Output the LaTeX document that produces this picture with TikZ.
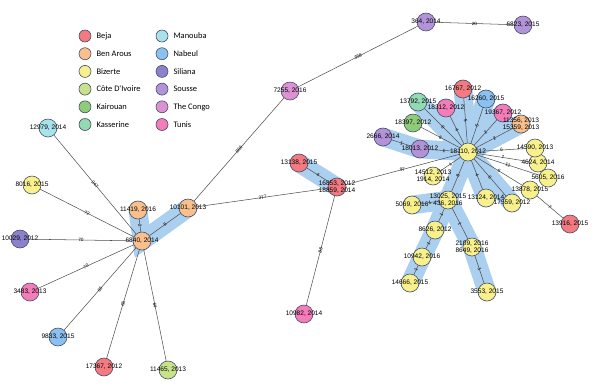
\documentclass[tikz,border=0pt]{standalone}
\usepackage{fontspec}
\usepackage{xcolor}
\usetikzlibrary{positioning, backgrounds}
\newfontfamily\lblfont{Liberation Sans}
\newfontfamily\legfont{Carlito}
\definecolor{beja}{HTML}{F27A80}
\definecolor{benarous}{HTML}{F9BF8C}
\definecolor{bizerte}{HTML}{F8F08C}
\definecolor{cotedivoire}{HTML}{C8E28C}
\definecolor{kairouan}{HTML}{8FCC7A}
\definecolor{kasserine}{HTML}{93D9B2}
\definecolor{manouba}{HTML}{A9E2EA}
\definecolor{nabeul}{HTML}{8CC0F0}
\definecolor{siliana}{HTML}{8C82CC}
\definecolor{sousse}{HTML}{B393D8}
\definecolor{congo}{HTML}{DA92D2}
\definecolor{tunis}{HTML}{F27DB9}
\definecolor{rimline}{HTML}{3F4A63}
\definecolor{linkgray}{HTML}{505050}
\definecolor{pathblue}{HTML}{ABCFEE}

\begin{document}
\begin{tikzpicture}[
    x=0.03cm, y=-0.03cm,
    site/.style={circle, draw=rimline, line width=0.5pt, minimum size=0.54cm, inner sep=0pt},
    lbl/.style={font=\lblfont\fontsize{5.6}{6.4}\selectfont, align=center, inner sep=0pt},
    key/.style={circle, draw=rimline, line width=0.5pt, minimum size=0.36cm, inner sep=0pt},
    keytext/.style={font=\legfont\fontsize{7.2}{8}\selectfont, inner sep=0pt, anchor=west},
    link/.style={draw=linkgray, line width=0.45pt},
    wt/.style={font=\lblfont\fontsize{4}{4.5}\selectfont, sloped, inner sep=0.5pt},
    hilite/.style={draw=pathblue, line width=0.56cm, line cap=round}
]
\useasboundingbox (0,0) rectangle (600,386);

% Legend
\node[key, fill=beja] (kbeja) at (85,36) {};
\node[keytext, right=0.15cm of kbeja] {Beja};
\node[key, fill=benarous] (kbenarous) at (85,53.7) {};
\node[keytext, right=0.15cm of kbenarous] {Ben Arous};
\node[key, fill=bizerte] (kbizerte) at (85,71.4) {};
\node[keytext, right=0.15cm of kbizerte] {Bizerte};
\node[key, fill=cotedivoire] (kcote) at (85,89.1) {};
\node[keytext, right=0.15cm of kcote] {Côte D'Ivoire};
\node[key, fill=kairouan] (kkairouan) at (85,106.8) {};
\node[keytext, right=0.15cm of kkairouan] {Kairouan};
\node[key, fill=kasserine] (kkasserine) at (85,124.5) {};
\node[keytext, right=0.15cm of kkasserine] {Kasserine};
\node[key, fill=manouba] (kmanouba) at (162,36) {};
\node[keytext, right=0.15cm of kmanouba] {Manouba};
\node[key, fill=nabeul] (knabeul) at (162,53.7) {};
\node[keytext, right=0.15cm of knabeul] {Nabeul};
\node[key, fill=siliana] (ksiliana) at (162,71.4) {};
\node[keytext, right=0.15cm of ksiliana] {Siliana};
\node[key, fill=sousse] (ksousse) at (162,89.1) {};
\node[keytext, right=0.15cm of ksousse] {Sousse};
\node[key, fill=congo] (kcongo) at (162,106.8) {};
\node[keytext, right=0.15cm of kcongo] {The Congo};
\node[key, fill=tunis] (ktunis) at (162,124.5) {};
\node[keytext, right=0.15cm of ktunis] {Tunis};

% Left cluster
\node[site, fill=benarous, label={[lbl]center:{6840, 2014}}] (n6840) at (142,241) {};
\node[site, fill=benarous, label={[lbl]center:{11419, 2016}}] (n11419) at (138,210) {};
\node[site, fill=benarous, label={[lbl]center:{10101, 2013}}] (n10101) at (188,208) {};
\node[site, fill=manouba, label={[lbl]center:{12979, 2014}}] (n12979) at (48,128) {};
\node[site, fill=bizerte, label={[lbl]center:{8016, 2015}}] (n8016) at (32,185) {};
\node[site, fill=siliana, label={[lbl]center:{10029, 2012}}] (n10029) at (20,239) {};
\node[site, fill=tunis, label={[lbl]center:{3483, 2013}}] (n3483) at (30,292) {};
\node[site, fill=nabeul, label={[lbl]center:{9833, 2015}}] (n9833) at (58,337) {};
\node[site, fill=beja, label={[lbl]center:{17367, 2012}}] (n17367) at (104,367) {};
\node[site, fill=cotedivoire, label={[lbl]center:{11465, 2013}}] (n11465) at (168,370) {};

% Centre
\node[site, fill=congo, label={[lbl]center:{7255, 2016}}] (n7255) at (290,91) {};
\node[site, fill=sousse, label={[lbl]center:{364, 2014}}] (n364) at (426,22) {};
\node[site, fill=sousse, label={[lbl]center:{6823, 2015}}] (n6823) at (523,25) {};
\node[site, fill=beja, label={[lbl]center:{13138, 2015}}] (n13138) at (299,163) {};
\node[site, fill=beja, label={[lbl]center:{16853, 2012\\18859, 2014}}] (n16853) at (337,187) {};
\node[site, fill=tunis, label={[lbl]center:{10982, 2014}}] (n10982) at (304,314) {};

% Right cluster
\node[site, fill=bizerte, label={[lbl]center:{18110, 2012}}] (n18110) at (468,152) {};
\node[site, fill=kasserine, label={[lbl]center:{13792, 2015}}] (n13792) at (418,102) {};
\node[site, fill=beja, label={[lbl]center:{16767, 2012}}] (n16767) at (463,89) {};
\node[site, fill=nabeul, label={[lbl]center:{16260, 2015}}] (n16260) at (486,99) {};
\node[site, fill=tunis, label={[lbl]center:{18312, 2012}}] (n18312) at (446,108) {};
\node[site, fill=tunis, label={[lbl]center:{19367, 2012}}] (n19367) at (503,113) {};
\node[site, fill=benarous, label={[lbl]center:{11356, 2013\\15359, 2013}}] (n11356) at (521,124) {};
\node[site, fill=kairouan, label={[lbl]center:{18397, 2012}}] (n18397) at (413,123) {};
\node[site, fill=sousse, label={[lbl]center:{2666, 2014}}] (n2666) at (383,137) {};
\node[site, fill=sousse, label={[lbl]center:{18013, 2012}}] (n18013) at (420,149) {};
\node[site, fill=bizerte, label={[lbl]center:{14512, 2013\\1914, 2014}}] (n14512) at (433,176) {};
\node[site, fill=bizerte, label={[lbl]center:{13025, 2015\\436, 2016}}] (n13025) at (448,200) {};
\node[site, fill=bizerte, label={[lbl]center:{13124, 2014}}] (n13124) at (486,198) {};
\node[site, fill=bizerte, label={[lbl]center:{5069, 2016}}] (n5069) at (412,205) {};
\node[site, fill=bizerte, label={[lbl]center:{8626, 2012}}] (n8626) at (435,230) {};
\node[site, fill=bizerte, label={[lbl]center:{10942, 2016}}] (n10942) at (422,257) {};
\node[site, fill=bizerte, label={[lbl]center:{14666, 2015}}] (n14666) at (410,283) {};
\node[site, fill=bizerte, label={[lbl]center:{2109, 2016\\8649, 2016}}] (n2109) at (472,247) {};
\node[site, fill=bizerte, label={[lbl]center:{3553, 2015}}] (n3553) at (487,292) {};
\node[site, fill=bizerte, label={[lbl]center:{17559, 2012}}] (n17559) at (512,203) {};
\node[site, fill=bizerte, label={[lbl]center:{13878, 2015}}] (n13878) at (530,190) {};
\node[site, fill=bizerte, label={[lbl]center:{5605, 2016}}] (n5605) at (548,178) {};
\node[site, fill=bizerte, label={[lbl]center:{4624, 2014}}] (n4624) at (538,163) {};
\node[site, fill=bizerte, label={[lbl]center:{14590, 2013}}] (n14590) at (535,148) {};
\node[site, fill=beja, label={[lbl]center:{13916, 2015}}] (n13916) at (570,224) {};

% Highlighted paths
\begin{scope}[on background layer]
\draw[hilite] (n11419.center) -- (n6840.center) -- (n10101.center);
\draw[hilite] (n13138.center) -- (n16853.center);
\draw[hilite] (n2666.center) -- (n18013.center) -- (n18110.center);
\draw[hilite] (n18110.center) -- (n13792.center);
\draw[hilite] (n18110.center) -- (n18312.center);
\draw[hilite] (n18110.center) -- (n16767.center);
\draw[hilite] (n18110.center) -- (n16260.center);
\draw[hilite] (n18110.center) -- (n19367.center);
\draw[hilite] (n18110.center) -- (n11356.center);
\draw[hilite] (n18110.center) -- (n13124.center);
\draw[hilite] (n18110.center) -- (n17559.center);
\draw[hilite] (n18110.center) -- (n13025.center);
\draw[hilite] (n5069.center) -- (n13025.center) -- (n8626.center) -- (n10942.center) -- (n14666.center);
\draw[hilite] (n13025.center) -- (n2109.center) -- (n3553.center);
\end{scope}

% Links
\draw[link] (n6840) -- node[wt]{247} (n12979);
\draw[link] (n6840) -- node[wt]{72} (n8016);
\draw[link] (n6840) -- node[wt]{70} (n10029);
\draw[link] (n6840) -- node[wt]{70} (n3483);
\draw[link] (n6840) -- node[wt]{65} (n9833);
\draw[link] (n6840) -- node[wt]{65} (n17367);
\draw[link] (n6840) -- node[wt]{64} (n11465);
\draw[link] (n6840) -- node[wt]{2} (n11419);
\draw[link] (n6840) -- node[wt]{6} (n10101);
\draw[link] (n10101) -- node[wt]{866} (n7255);
\draw[link] (n10101) -- node[wt]{377} (n16853);
\draw[link] (n7255) -- node[wt]{358} (n364);
\draw[link] (n364) -- node[wt]{20} (n6823);
\draw[link] (n13138) -- node[wt]{4} (n16853);
\draw[link] (n16853) -- node[wt]{88} (n10982);
\draw[link] (n16853) -- node[wt]{97} (n18110);
\draw[link] (n2666) -- node[wt]{1} (n18013);
\draw[link] (n18013) -- node[wt]{1} (n18110);
\draw[link] (n18110) -- node[wt]{6} (n13792);
\draw[link] (n18110) -- node[wt]{6} (n18397);
\draw[link] (n18110) -- node[wt]{4} (n18312);
\draw[link] (n18110) -- node[wt]{5} (n16767);
\draw[link] (n18110) -- node[wt]{5} (n16260);
\draw[link] (n18110) -- node[wt]{2} (n19367);
\draw[link] (n18110) -- node[wt]{2} (n11356);
\draw[link] (n18110) -- node[wt]{6} (n14590);
\draw[link] (n18110) -- node[wt]{7} (n4624);
\draw[link] (n18110) -- node[wt]{11} (n5605);
\draw[link] (n18110) -- node[wt]{6} (n13878);
\draw[link] (n18110) -- node[wt]{6} (n17559);
\draw[link] (n18110) -- node[wt]{4} (n13124);
\draw[link] (n18110) -- node[wt]{1} (n14512);
\draw[link] (n18110) -- node[wt]{8} (n13025);
\draw[link] (n13878) -- node[wt]{7} (n13916);
\draw[link] (n13025) -- node[wt]{1} (n5069);
\draw[link] (n13025) -- node[wt]{1} (n8626);
\draw[link] (n8626) -- node[wt]{1} (n10942);
\draw[link] (n10942) -- node[wt]{1} (n14666);
\draw[link] (n13025) -- node[wt]{1} (n2109);
\draw[link] (n2109) -- node[wt]{1} (n3553);

\end{tikzpicture}
\end{document}
